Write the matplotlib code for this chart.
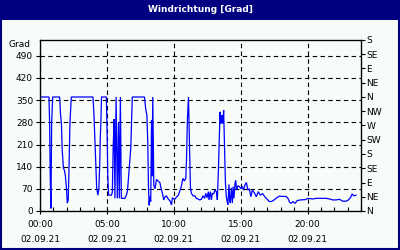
import matplotlib
matplotlib.use("Agg")
import matplotlib.pyplot as plt
from matplotlib.patches import Rectangle

# ---- data (hours since 00:00 on 02.09.21, wind direction in degrees) ----
hours = [0.00, 0.67, 0.72, 0.77, 0.82, 0.87, 0.95, 1.47, 1.53, 1.60, 1.66, 1.75, 1.83, 1.90,
         1.98, 2.04, 2.11, 2.16, 2.24, 2.34, 3.96, 4.03, 4.10, 4.18, 4.24, 4.29, 4.33, 4.40,
         4.46, 4.51, 4.55, 4.60, 4.96, 5.02, 5.07, 5.13, 5.34, 5.41, 5.47, 5.54, 5.60, 5.69,
         5.78, 5.87, 5.93, 6.01, 6.08, 6.34, 6.46, 6.54, 6.60, 6.68, 6.79, 6.90, 7.81, 7.91,
         7.99, 8.06, 8.11, 8.16, 8.21, 8.28, 8.34, 8.38, 8.43, 8.51, 8.60, 8.71, 8.81, 8.96,
         9.05, 9.16, 9.25, 9.35, 9.45, 9.55, 9.65, 9.75, 9.83, 9.90, 10.00, 10.10, 10.22,
         10.35, 10.47, 10.56, 10.69, 10.80, 10.90, 10.95, 11.02, 11.10, 11.14, 11.19, 11.25,
         11.32, 11.44, 11.57, 11.69, 11.81, 11.94, 12.07, 12.19, 12.31, 12.39, 12.49, 12.59,
         12.63, 12.74, 12.81, 12.89, 12.99, 13.08, 13.19, 13.26, 13.34, 13.38, 13.42, 13.46,
         13.51, 13.54, 13.58, 13.63, 13.68, 13.73, 13.78, 13.86, 13.93, 13.99, 14.05, 14.13,
         14.18, 14.23, 14.31, 14.38, 14.44, 14.50, 14.58, 14.63, 14.70, 14.80, 14.93, 15.02,
         15.12, 15.22, 15.32, 15.43, 15.54, 15.65, 15.77, 15.87, 16.02, 16.17, 16.32, 16.47,
         16.64, 16.81, 16.96, 17.14, 17.31, 17.51, 17.71, 17.91, 18.13, 18.40, 18.54, 18.66,
         18.78, 18.90, 19.07, 19.23, 19.48, 19.85, 20.02, 20.40, 20.65, 20.90, 21.14, 21.40,
         21.64, 21.89, 22.14, 22.39, 22.63, 22.89, 23.06, 23.21, 23.34, 23.46, 23.63]
direction = [360, 360, 277, 98, 8, 280, 360, 360, 308, 277, 193, 136, 128, 110,
             72, 25, 35, 120, 278, 360, 360, 308, 230, 150, 72, 60, 50, 70,
             140, 235, 278, 360, 360, 240, 110, 50, 50, 60, 200, 290, 40, 360,
             40, 280, 40, 360, 40, 40, 50, 63, 98, 140, 200, 360, 360, 320,
             303, 214, 77, 18, 45, 30, 287, 110, 360, 80, 70, 100, 95, 90,
             72, 55, 35, 45, 48, 40, 35, 30, 19, 42, 38, 38, 45,
             50, 66, 77, 103, 95, 103, 156, 287, 360, 287, 180, 72,
             56, 48, 48, 40, 38, 35, 37, 48, 40, 56, 42, 61,
             35, 61, 35, 56, 54, 66, 61, 35, 130, 193, 245, 313,
             277, 303, 277, 303, 277, 319, 235, 93, 45, 30, 20, 84,
             35, 25, 73, 25, 77, 40, 87, 96, 66, 80, 76, 70,
             78, 66, 82, 90, 66, 70, 45, 66, 58, 45, 61, 50,
             55, 45, 38, 30, 30, 35, 42, 47, 46, 46, 40, 28,
             24, 30, 24, 33, 35, 36, 40, 38, 40, 40, 40, 40,
             38, 35, 35, 37, 31, 31, 35, 42, 54, 48, 50]

title = "Windrichtung [Grad]"
x_ticks = [0, 5, 10, 15, 20]
x_labels = ["00:00\n02.09.21", "05:00\n02.09.21", "10:00\n02.09.21",
            "15:00\n02.09.21", "20:00\n02.09.21"]
y_ticks = [0, 70, 140, 210, 280, 350, 420, 490]
compass_ticks = [0, 45, 90, 135, 180, 225, 270, 315, 360, 405, 450, 495, 540]
compass_labels = ["N", "NE", "E", "SE", "S", "SW", "W", "NW", "N", "NE", "E", "SE", "S"]

NAVY = "#000080"
BG = "#F8FCF8"
FS = 6.5
plt.rcParams["font.family"] = ["DejaVu Sans"]

fig = plt.figure(figsize=(4, 2.5), dpi=100, facecolor=BG)

# title bar and frame
fig.patches.append(Rectangle((0, 230 / 250), 1, 20 / 250, transform=fig.transFigure,
                             facecolor=NAVY, edgecolor="none", zorder=0))
fig.patches.append(Rectangle((0.002, 0.004), 0.996, 0.99, transform=fig.transFigure,
                             facecolor="none", edgecolor=NAVY, lw=1.5, zorder=1))
fig.text(0.5, 240.5 / 250, title, color="white", fontsize=6.5, fontweight="bold",
         ha="center", va="center")

ax = fig.add_axes([40 / 400, 39 / 250, 321 / 400, 171 / 250])
ax.set_facecolor(BG)
ax.plot(hours, direction, color="#0000FF", lw=0.9, solid_joinstyle="miter")
ax.set_xlim(0, 24)
ax.set_ylim(0, 540)

ax.set_xticks(x_ticks)
ax.set_xticklabels(x_labels, fontsize=FS, linespacing=1.9)
ax.set_xticks(range(0, 25), minor=True)
ax.tick_params(axis="x", which="major", direction="inout", length=5, width=0.8, pad=4)
ax.tick_params(axis="x", which="minor", direction="in", length=3, width=0.8)
ax.set_yticks(y_ticks)
ax.set_yticklabels([str(v) for v in y_ticks], fontsize=FS)
ax.tick_params(axis="y", direction="out", length=3, width=0.8, pad=2)
ax.text(-0.03, 0.975, "Grad", transform=ax.transAxes, fontsize=FS, ha="right", va="center")

ax.grid(True, which="major", color="black", lw=0.8, linestyle=(0, (4, 3)))
for s in ax.spines.values():
    s.set_color("black")
    s.set_linewidth(0.9)

ax2 = ax.twinx()
ax2.set_ylim(0, 540)
ax2.set_yticks(compass_ticks)
ax2.set_yticklabels(compass_labels, fontsize=FS)
ax2.tick_params(axis="y", direction="out", length=3, width=0.8, pad=1)

fig.savefig("out.png", dpi=100, facecolor=BG)
